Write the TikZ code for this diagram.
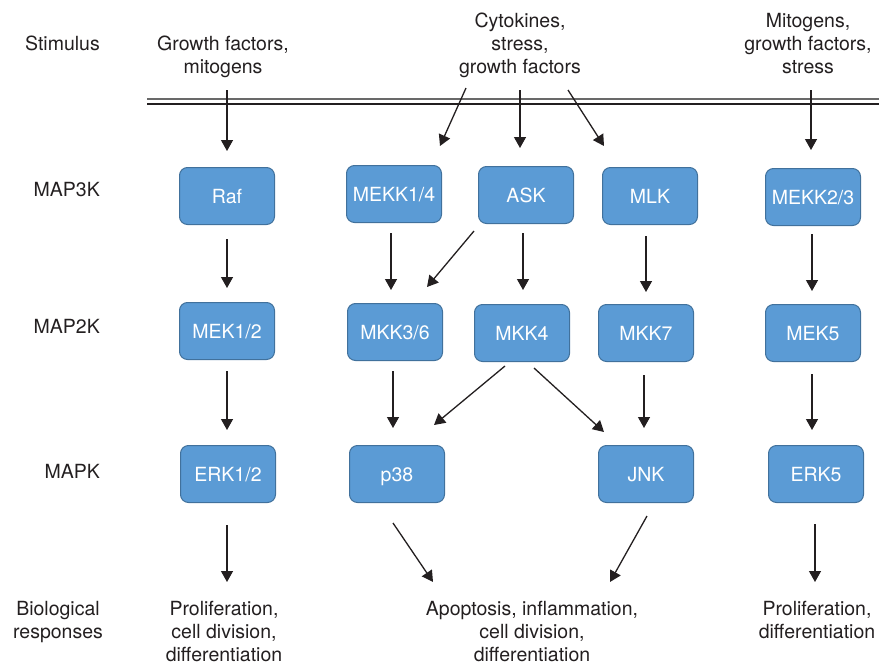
\documentclass[tikz,border=0pt]{standalone}
\usepackage{fontspec}
\setmainfont{TeX Gyre Heros}
\usetikzlibrary{arrows.meta,calc}
\definecolor{boxfill}{RGB}{91,155,213}
\definecolor{boxline}{RGB}{65,113,156}
\definecolor{ink}{RGB}{35,31,32}
\definecolor{barline}{RGB}{105,105,105}
\begin{document}
\begin{tikzpicture}[x=1pt, y=-1pt,
      every node/.style={font=\fontsize{19.5}{23}\selectfont, text=ink, inner sep=0pt},
      kbox/.style={draw=boxline, line width=1pt, fill=boxfill, rounded corners=8pt,
        minimum width=95pt, minimum height=57pt, text=white, text height=14pt, text depth=0pt},
      txt/.style={align=center, anchor=north},
      arr/.style={-{Triangle[length=11pt,width=12pt]}, line width=1.3pt, draw=ink}]
      \useasboundingbox (0,0) rectangle (879,667);
      % row titles
      \node [anchor=base east] (stimulus) at (100,50) {Stimulus};
      \node [anchor=base east] (map3k) at (100,196) {MAP3K};
      \node [anchor=base east] (map2k) at (100,333) {MAP2K};
      \node [anchor=base east] (mapk) at (100,478) {MAPK};
      \node [txt] (bio) at (58,601) {Biological\\responses};
      % stimuli and membrane
      \node [txt] (stim1) at (223,36) {Growth factors,\\mitogens};
      \node [txt] (stim2) at (520,13) {Cytokines,\\stress,\\growth factors};
      \node [txt] (stim3) at (808,13) {Mitogens,\\growth factors,\\stress};
      \draw [line width=2pt, barline] (147,99) -- (879,99);
      \draw [line width=1.2pt, ink] (147,104) -- (879,104);
      \coordinate (s1) at (227,90);
      \coordinate (s2) at (466,88);
      \coordinate (s3) at (520,90);
      \coordinate (s4) at (568,90);
      \coordinate (s5) at (811,90);
      % kinases
      \node [kbox] (raf) at (227,196) {Raf};
      \node [kbox] (mekk14) at (394,194) {MEKK1/4};
      \node [kbox] (ask) at (526,195) {ASK};
      \node [kbox] (mlk) at (650,196) {MLK};
      \node [kbox] (mekk23) at (813,197) {MEKK2/3};
      \node [kbox] (mek12) at (227,331) {MEK1/2};
      \node [kbox] (mkk36) at (395,332) {MKK3/6};
      \node [kbox] (mkk4) at (522,333) {MKK4};
      \node [kbox] (mkk7) at (646,333) {MKK7};
      \node [kbox] (mek5) at (813,333) {MEK5};
      \node [kbox] (erk12) at (228,474) {ERK1/2};
      \node [kbox] (p38) at (397,474) {p38};
      \node [kbox] (jnk) at (646,474) {JNK};
      \node [kbox] (erk5) at (816,474) {ERK5};
      % responses
      \node [txt] (resp1) at (224,601) {Proliferation,\\cell division,\\differentiation};
      \node [txt] (resp2) at (532,601) {Apoptosis, inflammation,\\cell division,\\differentiation};
      \node [txt] (resp3) at (817,601) {Proliferation,\\differentiation};
      % stimulus to MAP3K
      \draw [arr] (s1) -- ($(raf.north)+(0,-16)$);
      \draw [arr] (s2) -- ($(mekk14.north east)+(-2,-19)$);
      \draw [arr] (s3) -- ($(s3 |- ask.north)+(0,-18)$);
      \draw [arr] (s4) -- ($(mlk.north west)+(2,-21)$);
      \draw [arr] (s5) -- ($(s5 |- mekk23.north)+(0,-18)$);
      % MAP3K to MAP2K
      \draw [arr] ($(raf.south)+(0,14)$) -- ($(mek12.north)+(0,-14)$);
      \draw [arr] ($(mekk14.south)+(-3,10)$) -- ($(mkk36.north)+(-4,-13)$);
      \draw [arr] ($(ask.south west)+(-4,7)$) -- ($(mkk36.north east)+(-16,-16)$);
      \draw [arr] ($(ask.south)+(-3,9)$) -- ($(mkk4.north)+(1,-14)$);
      \draw [arr] ($(mlk.south)+(-4,11)$) -- ($(mkk7.north)+(0,-12)$);
      \draw [arr] ($(mekk23.south)+(-1,8)$) -- ($(mek5.north)+(-1,-13)$);
      % MAP2K to MAPK
      \draw [arr] ($(mek12.south)+(0,11)$) -- ($(erk12.north)+(-1,-15)$);
      \draw [arr] ($(mkk36.south)+(-2,10)$) -- ($(p38.north)+(-4,-17)$);
      \draw [arr] ($(mkk4.south west)+(31,4)$) -- ($(p38.north east)+(-11,-20)$);
      \draw [arr] ($(mkk4.south)+(12,6)$) -- ($(jnk.north west)+(6,-13)$);
      \draw [arr] ($(mkk7.south)+(-2,13)$) -- ($(jnk.north)+(-2,-17)$);
      \draw [arr] ($(mek5.south)+(-1,12)$) -- ($(erk5.north)+(-4,-15)$);
      % MAPK to responses
      \draw [arr] ($(erk12.south)+(-1,22)$) -- ($(resp1.north)+(3,-19)$);
      \draw [arr] ($(p38.south)+(-4,20)$) -- ($(resp2.north)+(-99,-19)$);
      \draw [arr] ($(jnk.south)+(1,13)$) -- ($(resp2.north)+(78,-19)$);
      \draw [arr] ($(erk5.south)+(-1,21)$) -- ($(resp3.north)+(-2,-19)$);
    \end{tikzpicture}
\end{document}
